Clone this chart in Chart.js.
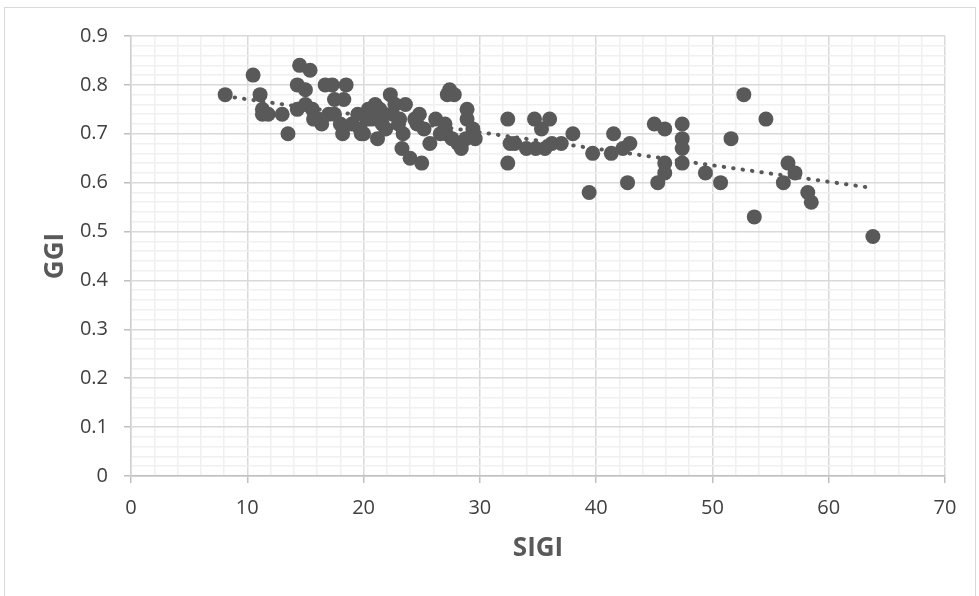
<!DOCTYPE html>
<html>
<head>
<meta charset="utf-8">
<script src="https://cdn.jsdelivr.net/npm/chart.js@4"></script>
<style>
  body { margin: 0; background: #fff; }
  #wrap { width: 979px; height: 596px; position: relative; }
</style>
</head>
<body>
<div id="wrap"><canvas id="scatterChart"></canvas></div>
<script>
// SIGI (x) and GGI (y) per country
const sigiValues = [
  8.1, 10.5, 11.1, 11.3, 11.3, 11.8, 13.0, 13.5, 14.3, 14.5, 14.3, 15.0, 15.4, 15.0, 15.6,
  16.1, 16.4, 16.7, 17.3, 17.5, 17.5, 18.0, 18.2, 18.5, 18.3, 19.0, 19.5, 19.7, 19.8, 20.4,
  20.7, 21.0, 21.2, 21.4, 21.6, 21.8, 22.3, 22.7, 23.1, 23.4, 23.3, 23.6, 24.0, 24.4, 24.6,
  24.8, 25.0, 25.2, 25.7, 26.2, 27.0, 27.2, 27.4, 27.8, 27.1, 27.6, 28.1, 28.4, 28.8, 28.9,
  28.9, 29.4, 29.6, 32.4, 32.4, 32.6, 33.0, 34.0, 34.7, 34.8, 35.3, 35.6, 36.0, 36.2, 37.0,
  38.0, 39.4, 39.7, 41.3, 41.5, 42.3, 42.7, 42.9, 45.0, 45.3, 45.9, 45.9, 45.9, 47.4, 47.4,
  47.4, 47.4, 49.4, 50.7, 51.6, 52.7, 53.6, 54.6, 56.1, 56.5, 57.1, 58.2, 58.5, 63.8,
  20.3, 21.9, 22.5, 23.0, 26.6, 17.0, 15.7, 20.0
];
const ggiValues = [
  0.78, 0.82, 0.78, 0.75, 0.74, 0.74, 0.74, 0.70, 0.80, 0.84, 0.75, 0.79, 0.83, 0.76, 0.75,
  0.73, 0.72, 0.80, 0.80, 0.77, 0.74, 0.72, 0.70, 0.80, 0.77, 0.72, 0.74, 0.71, 0.70, 0.75,
  0.73, 0.76, 0.69, 0.75, 0.72, 0.74, 0.78, 0.76, 0.73, 0.70, 0.67, 0.76, 0.65, 0.73, 0.72,
  0.74, 0.64, 0.71, 0.68, 0.73, 0.72, 0.78, 0.79, 0.78, 0.70, 0.69, 0.68, 0.67, 0.69, 0.75,
  0.73, 0.71, 0.69, 0.73, 0.64, 0.68, 0.68, 0.67, 0.73, 0.67, 0.71, 0.67, 0.73, 0.68, 0.68,
  0.70, 0.58, 0.66, 0.66, 0.70, 0.67, 0.60, 0.68, 0.72, 0.60, 0.71, 0.64, 0.62, 0.72, 0.69,
  0.67, 0.64, 0.62, 0.60, 0.69, 0.78, 0.53, 0.73, 0.60, 0.64, 0.62, 0.58, 0.56, 0.49,
  0.73, 0.71, 0.74, 0.72, 0.70, 0.74, 0.73, 0.70
];
// dotted linear trendline endpoints
const trendX = [8.1, 63.8];
const trendY = [0.777, 0.589];

const xTitle = 'SIGI';
const yTitle = 'GGI';

const textColor = '#595959';
const tickText = '#404040';
const majorGrid = '#d9d9d9';
const minorGrid = '#f0f0f0';

const points = sigiValues.map((x, i) => ({ x: x, y: ggiValues[i] }));
const trend = trendX.map((x, i) => ({ x: x, y: trendY[i] }));

const isMajorX = v => Math.round(v) % 10 === 0;
const isMajorY = v => Math.round(v * 100) % 10 === 0;

const frame = {
  id: 'frame',
  beforeDraw(chart) {
    const ctx = chart.ctx;
    ctx.save();
    ctx.fillStyle = '#fff';
    ctx.fillRect(0, 0, chart.width, chart.height);
    ctx.strokeStyle = '#d9d9d9';
    ctx.lineWidth = 1;
    ctx.strokeRect(4.5, 7.5, 971, 600);
    ctx.restore();
  }
};

new Chart(document.getElementById('scatterChart').getContext('2d'), {
  type: 'scatter',
  data: {
    datasets: [
      {
        type: 'line',
        data: trend,
        borderColor: textColor,
        borderWidth: 4,
        borderDash: [0.5, 9],
        borderCapStyle: 'round',
        pointRadius: 0,
        fill: false,
        order: 0
      },
      {
        data: points,
        backgroundColor: '#595959',
        borderWidth: 0,
        pointRadius: 7.5,
        order: 1
      }
    ]
  },
  options: {
    responsive: true, maintainAspectRatio: false,
    animation: false,
    layout: { padding: { top: 36, right: 34, left: 0, bottom: 0 } },
    plugins: { legend: { display: false }, tooltip: { enabled: false } },
    scales: {
      x: {
        type: 'linear', min: 0, max: 70,
        afterFit: s => { s.height = 120; },
        ticks: {
          stepSize: 2, maxTicksLimit: 100, autoSkip: false, maxRotation: 0,
          padding: 13, color: tickText,
          font: { family: 'Open Sans', size: 20 },
          callback: v => isMajorX(v) ? String(Math.round(v)) : ''
        },
        grid: {
          color: c => isMajorX(c.tick.value) ? majorGrid : minorGrid,
          lineWidth: 1.5,
          tickColor: c => isMajorX(c.tick.value) ? '#bfbfbf' : 'rgba(0,0,0,0)',
          tickLength: 7
        },
        border: { color: '#bfbfbf', width: 1.5 },
        title: {
          display: true, text: xTitle, color: textColor,
          font: { family: 'Open Sans', size: 26, weight: 'bold' },
          padding: { top: 0, bottom: 32 }
        }
      },
      y: {
        type: 'linear', min: 0, max: 0.9,
        afterFit: s => { s.width = 131; },
        ticks: {
          stepSize: 0.02, maxTicksLimit: 100, autoSkip: false,
          padding: 16, color: tickText,
          font: { family: 'Open Sans', size: 20 },
          callback: v => {
            const n = Math.round(v * 100);
            return n % 10 === 0 ? String(n / 100) : '';
          }
        },
        grid: {
          color: c => isMajorY(c.tick.value) ? majorGrid : minorGrid,
          lineWidth: 1.5,
          tickColor: c => isMajorY(c.tick.value) ? '#bfbfbf' : 'rgba(0,0,0,0)',
          tickLength: 7
        },
        border: { color: '#d0d0d0', width: 1.5 },
        title: {
          display: true, text: yTitle, color: textColor,
          font: { family: 'Open Sans', size: 26, weight: 'bold' },
          padding: { top: 40, bottom: 0 }
        }
      }
    }
  },
  plugins: [frame]
});
</script>
</body>
</html>
